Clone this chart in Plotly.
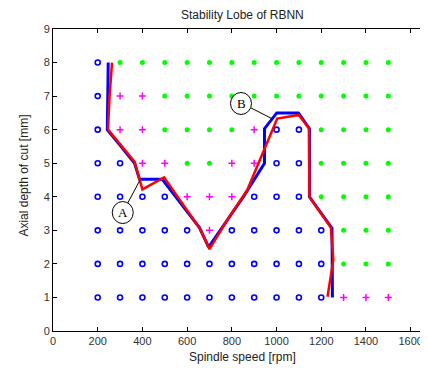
import plotly.graph_objects as go

# ---- data ----
speeds = [200, 300, 400, 500, 600, 700, 800, 900, 1000, 1100, 1200, 1300, 1400, 1500]
depths = [1, 2, 3, 4, 5, 6, 7, 8]
# o = stable (blue circle), + = marginal (magenta plus), . = chatter (green dot)
status_rows = {
    8: "o.............",
    7: "o++...........",
    6: "o++....+oo....",
    5: "oo++..++oo....",
    4: "oooo+++ooo....",
    3: "ooooo+ooooo...",
    2: "ooooooooooo...",
    1: "ooooooooooo+++",
}

# stability lobe (blue) and RBNN lobe (red)
blue_x = [247, 243, 302, 365, 387, 489, 655, 696, 852, 946, 946, 1001, 1098, 1147, 1147, 1248, 1250]
blue_y = [8.0, 6.0, 5.52, 5.0, 4.52, 4.52, 3.08, 2.5, 4.0, 5.0, 6.03, 6.5, 6.5, 6.03, 4.0, 3.06, 1.0]
red_x = [264, 253, 246, 365, 400, 497, 660, 700, 790, 869, 1003, 1099, 1145, 1147, 1243, 1254, 1228]
red_y = [8.0, 7.0, 6.0, 5.04, 4.22, 4.58, 3.02, 2.44, 3.42, 4.2, 6.33, 6.44, 6.04, 4.0, 3.08, 2.12, 1.02]

# callouts: label, circle centre, leader start, leader end
callouts = [
    ("A", 312, 3.53, 334, 3.81, 388, 4.48),
    ("B", 841, 6.78, 885, 6.65, 979, 6.33),
]

# ---- build ----
groups = {"o": ([], []), "+": ([], []), ".": ([], [])}
for d in depths:
    for s, c in zip(speeds, status_rows[d]):
        groups[c][0].append(s)
        groups[c][1].append(d)

fig = go.Figure()
fig.add_trace(go.Scatter(x=groups["o"][0], y=groups["o"][1], mode="markers",
                         marker=dict(symbol="circle-open", size=5, color="#0000ff",
                                     line=dict(width=1.6, color="#0000ff"))))
fig.add_trace(go.Scatter(x=groups["+"][0], y=groups["+"][1], mode="markers",
                         marker=dict(symbol="cross-thin-open", size=5, color="#ff00ff",
                                     line=dict(width=1.5, color="#ff00ff"))))
fig.add_trace(go.Scatter(x=groups["."][0], y=groups["."][1], mode="markers",
                         marker=dict(symbol="circle", size=5, color="#00ff00",
                                     line=dict(width=0))))
fig.add_trace(go.Scatter(x=blue_x, y=blue_y, mode="lines",
                         line=dict(color="#0000ff", width=3)))
fig.add_trace(go.Scatter(x=red_x, y=red_y, mode="lines",
                         line=dict(color="#ff0000", width=2.5)))
# invisible trace to activate the mirrored top axis
fig.add_trace(go.Scatter(x=[0], y=[0], xaxis="x2", mode="markers",
                         marker=dict(opacity=0), hoverinfo="skip"))

shapes = []
annotations = []
for lab, cx, cy, sx, sy, ex, ey in callouts:
    shapes.append(dict(type="circle", xref="x", yref="y", xsizemode="pixel", ysizemode="pixel",
                       xanchor=cx, yanchor=cy, x0=-10.5, x1=10.5, y0=-11, y1=11,
                       line=dict(color="black", width=1), fillcolor="white"))
    shapes.append(dict(type="line", xref="x", yref="y", x0=sx, y0=sy, x1=ex, y1=ey,
                       line=dict(color="black", width=1)))
    annotations.append(dict(x=cx, y=cy, xref="x", yref="y", text=lab, showarrow=False,
                            font=dict(family="Liberation Serif", size=13, color="black")))

annotations.append(dict(x=0.505, y=-0.085, xref="paper", yref="paper", text="Spindle speed [rpm]",
                        showarrow=False, xanchor="center", yanchor="middle",
                        font=dict(family="Liberation Sans", size=12, color="#222")))
annotations.append(dict(x=-0.076, y=0.513, xref="paper", yref="paper", text="Axial depth of cut [mm]",
                        showarrow=False, textangle=-90, xanchor="center", yanchor="middle",
                        font=dict(family="Liberation Sans", size=12, color="#222")))

xmax = 1677.5
axis_common = dict(showgrid=False, zeroline=False, showline=True, linecolor="black", linewidth=1,
                   ticks="inside", ticklen=4, tickcolor="black", tickwidth=1,
                   tickfont=dict(family="Liberation Sans", size=11, color="#333"))
# the page body adds an 8px offset, so the figure is 8px smaller and margins are shifted
fig.update_layout(
    width=420, height=360,
    margin=dict(l=44.5, r=0, t=20.6, b=36.7),
    paper_bgcolor="white", plot_bgcolor="white",
    showlegend=False,
    title=dict(text="Stability Lobe of RBNN", x=0.505, xref="paper", xanchor="center",
               y=1 - 7 / 360, yref="container", yanchor="middle",
               font=dict(family="Liberation Sans", size=12, color="#222")),
    xaxis=dict(range=[0, xmax], tickvals=[0, 200, 400, 600, 800, 1000, 1200, 1400, 1600],
               **axis_common),
    xaxis2=dict(range=[0, xmax], overlaying="x", side="top", showticklabels=False,
                tickvals=[0, 200, 400, 600, 800, 1000, 1200, 1400, 1600], **axis_common),
    yaxis=dict(range=[0, 9], dtick=1, **axis_common),
    shapes=shapes,
    annotations=annotations,
)

fig.write_html("out.html")
